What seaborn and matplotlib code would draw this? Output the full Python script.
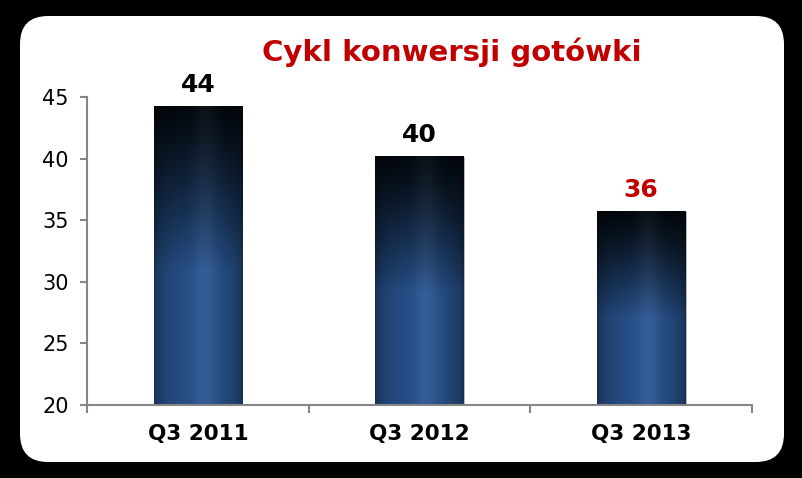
import numpy as np
import pandas as pd
import seaborn as sns
import matplotlib.pyplot as plt
from matplotlib.patches import FancyBboxPatch

# chart data
quarters = ['Q3 2011', 'Q3 2012', 'Q3 2013']
cycle_days = [44.25, 40.15, 35.7]
value_labels = ['44', '40', '36']
label_colors = ['black', 'black', '#C00000']

df = pd.DataFrame({'quarter': quarters, 'days': cycle_days})

sns.set_theme(style='white')
plt.rcParams['font.family'] = ['DejaVu Sans']
plt.rcParams['text.color'] = 'black'
plt.rcParams['xtick.color'] = 'black'
plt.rcParams['ytick.color'] = 'black'

fig = plt.figure(figsize=(8.03, 4.78), dpi=100, facecolor='black')

# white rounded panel
panel = FancyBboxPatch((20 / 803, 16 / 478), 764 / 803, 446 / 478,
                       boxstyle='round,pad=0,rounding_size=0.035',
                       transform=fig.transFigure, facecolor='white',
                       edgecolor='none', mutation_aspect=803 / 478, zorder=-5)
fig.patches.append(panel)

ax = fig.add_axes([87 / 803, 73 / 478, 665 / 803, 308 / 478])
ax.set_facecolor('none')

sns.barplot(data=df, x='quarter', y='days', width=0.4, color='#27508a',
            ax=ax, zorder=2)
ymin, ymax = 20, 45

# gradient fill for each bar (relative to the visible part of the bar)
ny, nx = 200, 100
t = np.linspace(0, 1, ny)[:, None]          # 0 top -> 1 bottom
u = np.linspace(0, 1, nx)[None, :]          # 0 left -> 1 right
top = np.array([0.01, 0.03, 0.05])
blue = np.array([0.15, 0.31, 0.53])
mix = np.clip(t / 0.55, 0, 1) ** 1.2
base = top + (blue - top) * mix[..., None]
edge = 0.58 + 0.42 * np.sin(np.pi * u) ** 0.5
glow = np.exp(-((u - 0.58) / 0.13) ** 2)
img = base * edge[..., None]
img = img + glow[..., None] * (0.035 + 0.02 * mix[..., None]) * np.array([1.0, 1.05, 1.2])
img = np.clip(img, 0, 1)

for p in list(ax.patches):
    x0, w = p.get_x(), p.get_width()
    h = p.get_height()
    p.set_edgecolor('#bfbfbf')
    p.set_linewidth(0.6)
    ax.imshow(img, extent=[x0, x0 + w, ymin, h], aspect='auto',
              origin='upper', zorder=3, interpolation='bilinear')

ax.set_ylim(ymin, ymax)
ax.set_xlim(-0.5, 2.5)

for i, (v, lab, c) in enumerate(zip(cycle_days, value_labels, label_colors)):
    ax.annotate(lab, (i, v), xytext=(0, 7), textcoords='offset points',
                ha='center', va='bottom', fontsize=18, fontweight='bold',
                color=c, zorder=4)

# axes styling
sns.despine(ax=ax)
for s in ['left', 'bottom']:
    ax.spines[s].set_color('#868686')
    ax.spines[s].set_linewidth(1.5)
    ax.spines[s].set_zorder(5)
ax.set_yticks([20, 25, 30, 35, 40, 45])
ax.tick_params(axis='y', direction='out', length=5, width=1.5, color='#868686',
               labelsize=15, pad=8, labelcolor='black', left=True)
ax.set_xticks([-0.5, 0.5, 1.5, 2.5])
ax.set_xticklabels([])
ax.set_xticks([0, 1, 2], minor=True)
ax.set_xticklabels(quarters, minor=True, fontsize=15.5, fontweight='bold',
                   color='black')
ax.tick_params(axis='x', which='major', direction='out', length=6, width=1.5,
               color='#868686', bottom=True)
ax.tick_params(axis='x', which='minor', length=0, pad=14, labelcolor='black')
ax.set_xlabel('')
ax.set_ylabel('')

fig.text(452 / 803, 1 - 52 / 478, 'Cykl konwersji gotówki', ha='center', va='center',
         fontsize=21, fontweight='bold', color='#C00000')

fig.savefig('out.png', dpi=100, facecolor='black')
